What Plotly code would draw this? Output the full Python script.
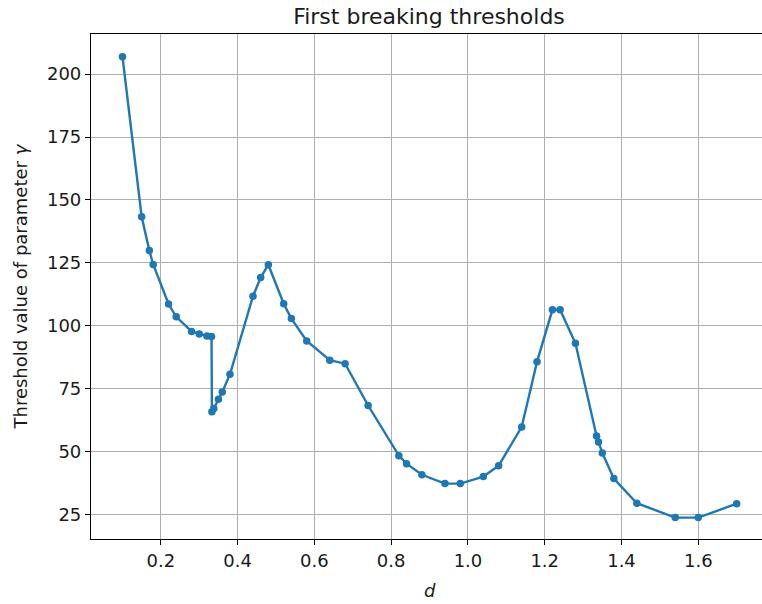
import plotly.graph_objects as go

d_values = [0.10, 0.15, 0.17, 0.18, 0.22, 0.24, 0.28, 0.30, 0.32, 0.332, 0.333, 0.338,
            0.35, 0.36, 0.38, 0.44, 0.46, 0.48, 0.52, 0.54, 0.58, 0.64, 0.68, 0.74,
            0.82, 0.84, 0.88, 0.94, 0.98, 1.04, 1.08, 1.14, 1.18, 1.22, 1.24, 1.28,
            1.335, 1.34, 1.35, 1.38, 1.44, 1.54, 1.60, 1.70]
gamma_values = [206.9, 143.3, 129.9, 124.4, 108.7, 103.6, 97.8, 96.8, 96.0, 95.8, 65.9, 67.2,
                70.9, 73.8, 80.8, 111.8, 119.2, 124.3, 108.8, 102.9, 94.0, 86.4, 85.0, 68.4,
                48.5, 45.3, 40.9, 37.4, 37.4, 40.2, 44.5, 59.9, 85.8, 106.4, 106.4, 93.1,
                56.3, 53.9, 49.5, 39.4, 29.6, 23.9, 23.9, 29.4]
x_ticks = [0.2, 0.4, 0.6, 0.8, 1.0, 1.2, 1.4, 1.6]
y_ticks = [25, 50, 75, 100, 125, 150, 175, 200]

W, H = 762, 604
L, R, T, B = 91, 0, 34, 65
FONT = "DejaVu Sans"
TXT = "#1a1a1a"

fig = go.Figure()
fig.add_trace(go.Scatter(
    x=d_values, y=gamma_values, mode="lines+markers",
    line=dict(color="#1f77b4", width=2.4),
    marker=dict(color="#1f77b4", size=7.5),
    showlegend=False,
))

axis_common = dict(
    showgrid=True, gridcolor="#b0b0b0", gridwidth=1,
    showline=True, linecolor="black", linewidth=1.2,
    ticks="outside", ticklen=5, tickwidth=1.2, tickcolor="black",
    zeroline=False,
    tickfont=dict(family=FONT, size=18, color=TXT),
)

fig.update_xaxes(range=[0.018, 1.766], tickvals=x_ticks, tickformat=".1f",
                 mirror=True, **axis_common)
fig.update_yaxes(range=[15.4, 215.9], tickvals=y_ticks, mirror=False, **axis_common)

plot_w = W - L - R
plot_h = H - T - B
fig.update_layout(
    width=W, height=H,
    margin=dict(l=L, r=R, t=T, b=B, pad=0),
    paper_bgcolor="white", plot_bgcolor="white",
    font=dict(family=FONT, color=TXT),
    title=dict(text="First breaking thresholds", x=429 / W, xanchor="center",
               xref="container", y=1 - 16 / H, yref="container", yanchor="middle",
               font=dict(family=FONT, size=22, color=TXT)),
    annotations=[
        dict(text="<i>d</i>", xref="paper", yref="paper",
             x=(430 - L) / plot_w, y=-(590 - (T + plot_h)) / plot_h,
             xanchor="center", yanchor="middle", showarrow=False,
             font=dict(family=FONT, size=18, color=TXT)),
        dict(text="Threshold value of parameter <i>γ</i>", xref="paper", yref="paper",
             x=(20 - L) / plot_w, y=0.5, textangle=-90,
             xanchor="center", yanchor="middle", showarrow=False,
             font=dict(family=FONT, size=18, color=TXT)),
    ],
)

fig.write_html("out.html")
